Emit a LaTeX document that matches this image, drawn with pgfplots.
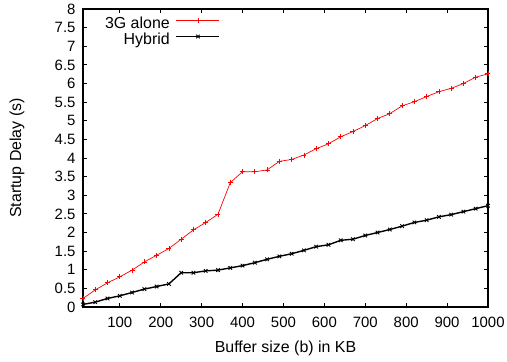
\documentclass[border=0pt]{standalone}
\usepackage{pgfplots}
\pgfplotsset{compat=1.18}
\usepackage{fontspec}
\setmainfont{Liberation Sans}
\begin{document}
\begin{tikzpicture}
\useasboundingbox (-83bp,-55bp) rectangle (424bp,307bp);
\begin{axis}[
 at={(0,0)}, anchor=south west,
 scale only axis, width=405bp, height=298bp,
 xmin=10, xmax=1000, ymin=0, ymax=8,
 xtick={100,200,...,1000}, ytick={0,0.5,...,8},
 tick align=inside, major tick length=4bp,
 axis line style={line width=1.1pt},
 tick style={line width=0.8pt, black},
 ticklabel style={font=\fontsize{15}{17}\selectfont},
 yticklabel style={xshift=-4bp},
 xticklabel style={yshift=-7bp, /pgf/number format/1000 sep={}},
 /pgf/number format/assume math mode=true,
 xlabel={Buffer size (b) in KB}, ylabel={Startup Delay (s)},
 label style={font=\fontsize{16}{18}\selectfont},
 xlabel style={at={(axis description cs:0.5,-0.154)}, anchor=base},
 ylabel style={at={(axis description cs:-0.163,0.5)}, anchor=center},
 legend style={at={(axis description cs:0.054,0.972)}, anchor=north west, draw=none, fill=none,
   inner sep=0pt, row sep=0pt, column sep=6bp,
   nodes={inner sep=0pt, text height=11bp, text depth=5bp},
   font=\fontsize{16}{18}\selectfont},
 legend cell align=right, legend plot pos=right,
 legend image code/.code={\draw[yshift=5bp, mark repeat=2, mark phase=2] plot coordinates {(0bp,0bp)(21.5bp,0bp)(43bp,0bp)};},
]
\addplot[red, line width=0.7pt, mark=+, mark size=2.5bp, mark options={line width=0.8pt}] coordinates {
(10,0.23)(40,0.46)(70,0.65)(100,0.81)(130,0.99)(160,1.21)(190,1.39)(220,1.57)
(250,1.82)(280,2.07)(310,2.27)(340,2.49)(370,3.34)(400,3.63)(430,3.63)(460,3.68)
(490,3.91)(520,3.96)(550,4.08)(580,4.25)(610,4.38)(640,4.57)(670,4.71)(700,4.87)
(730,5.06)(760,5.19)(790,5.40)(820,5.51)(850,5.65)(880,5.78)(910,5.87)(940,6.00)
(970,6.17)(1000,6.26)};
\addlegendentry{3G alone}
\addplot[black, line width=1.4pt, mark=x, mark size=2.5bp, mark options={line width=0.9pt}] coordinates {
(10,0.07)(40,0.13)(70,0.23)(100,0.30)(130,0.39)(160,0.48)(190,0.55)(220,0.62)
(250,0.92)(280,0.92)(310,0.97)(340,0.99)(370,1.05)(400,1.11)(430,1.19)(460,1.28)
(490,1.36)(520,1.43)(550,1.52)(580,1.62)(610,1.67)(640,1.79)(670,1.82)(700,1.92)
(730,2.00)(760,2.08)(790,2.17)(820,2.27)(850,2.33)(880,2.42)(910,2.48)(940,2.56)
(970,2.64)(1000,2.72)};
\addlegendentry{Hybrid}
\end{axis}
\end{tikzpicture}
\end{document}
